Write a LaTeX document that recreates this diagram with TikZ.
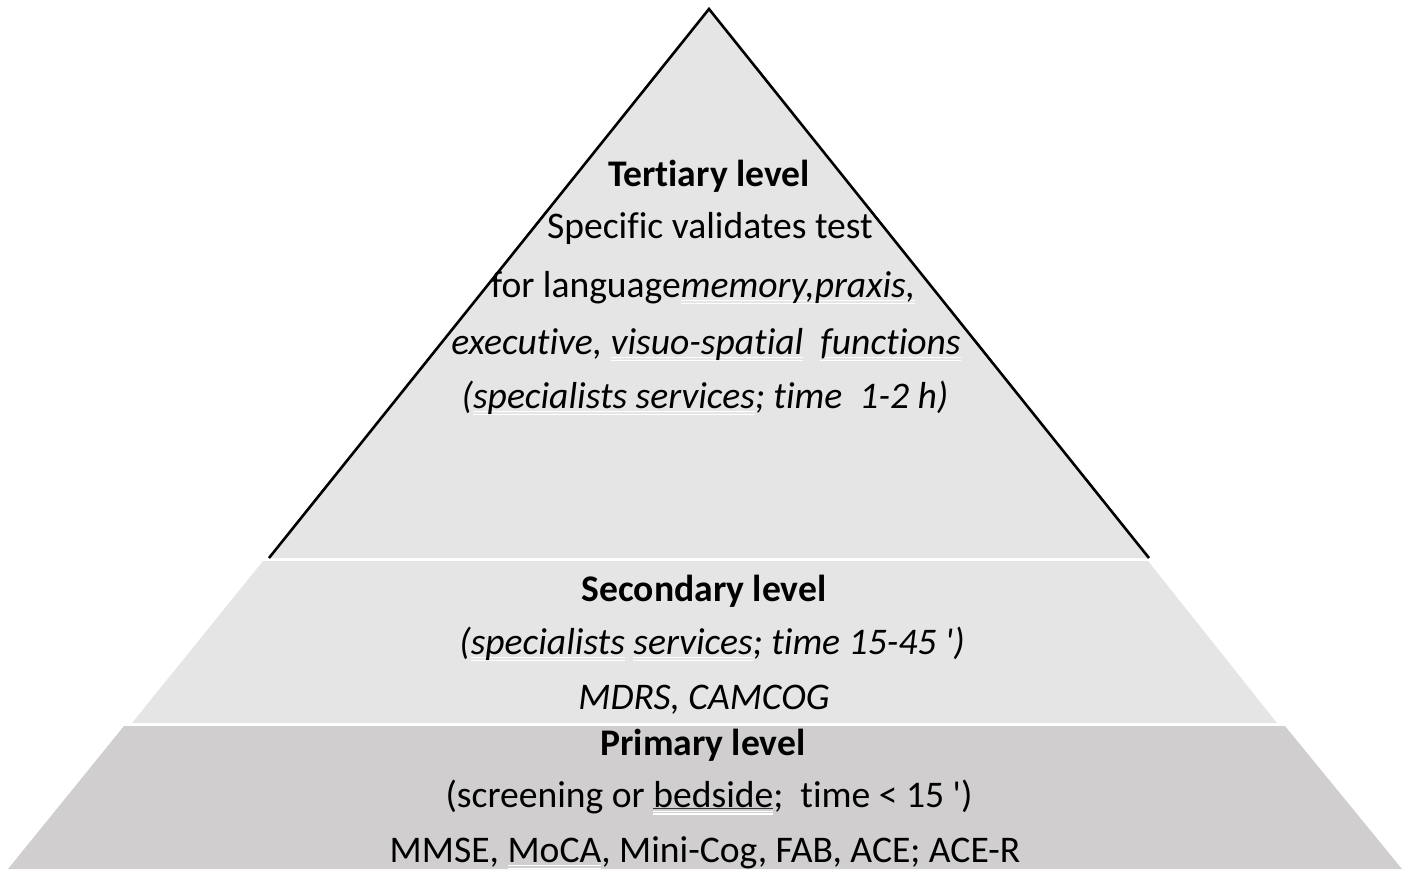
\documentclass[tikz,border=0pt]{standalone}
\usepackage{fontspec}
\setmainfont{Carlito}[Ligatures={TeXOff,NoCommon}]
\definecolor{tierlight}{RGB}{229,229,229}
\definecolor{tierdark}{RGB}{208,206,207}
% white double underline (proofing marks) under a word
\newcommand\wul[1]{\setbox0=\hbox{#1}%
  \rlap{\textcolor{white}{\rule[-2.1pt]{\wd0}{0.6pt}}}%
  \rlap{\textcolor{white}{\rule[-3.6pt]{\wd0}{0.6pt}}}\box0\relax}
% black underline followed by the white double line
\newcommand\bul[1]{\setbox0=\hbox{#1}%
  \rlap{\textcolor{black!80}{\rule[-1.2pt]{\wd0}{0.5pt}}}%
  \rlap{\textcolor{white}{\rule[-2.4pt]{\wd0}{0.6pt}}}%
  \rlap{\textcolor{white}{\rule[-3.8pt]{\wd0}{0.6pt}}}\box0\relax}
\begin{document}
\begin{tikzpicture}[x=0.5pt,y=-0.5pt,
  tiertext/.style={anchor=base,inner sep=0pt,font=\fontsize{18.8}{22}\selectfont},
  tierhead/.style={tiertext,font=\fontsize{18.8}{22}\selectfont\bfseries}]
\useasboundingbox (0,0) rectangle (1405,869);
% tiers
\fill[tierlight] (709,9) -- (1149,558) -- (269,558) -- cycle;
\draw[line width=1.3pt,line join=miter] (269,558) -- (709,9) -- (1149,558);
\fill[tierlight] (263,561) -- (1148,561) -- (1277,723) -- (132,723) -- cycle;
\fill[tierdark] (124,726) -- (1285,726) -- (1402,869) -- (8,869) -- cycle;
% tertiary level
\node[tierhead] (t1) at (709,186) {Tertiary level};
\node[tiertext] (t2) at (710,238) {Specific validates test};
\node[tiertext] (t3) at (703,297) {for language\wul{\itshape memory,praxis,}};
\node[tiertext] (t4) at (706,354) {\itshape executive, \wul{visuo-spatial}\ \ \wul{functions}};
\node[tiertext] (t5) at (705,408) {\itshape (\wul{specialists services}; time\ \ 1-2 h)};
% secondary level
\node[tierhead] (s1) at (704,601) {Secondary level};
\node[tiertext] (s2) at (712,654) {\itshape (\wul{specialists} \wul{services}; time 15-45 ')};
\node[tiertext] (s3) at (704,709) {\itshape MDRS, CAMCOG};
% primary level
\node[tierhead] (p1) at (703,755) {Primary level};
\node[tiertext] (p2) at (709,807) {(screening or \bul{bedside};\ \ time < 15 ')};
\node[tiertext] (p3) at (705,862) {MMSE, \wul{MoCA}, Mini-Cog, FAB, ACE; ACE-R};
\end{tikzpicture}
\end{document}
